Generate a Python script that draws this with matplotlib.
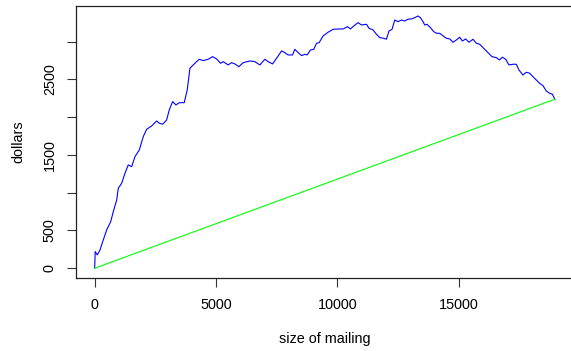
import matplotlib
matplotlib.use("Agg")
from matplotlib import pyplot as plt
import numpy as np

plt.rcParams['font.family'] = ['Liberation Sans', 'DejaVu Sans']

# cumulative profit
size = np.array([0, 20, 107, 218, 354, 494, 659, 766, 906, 972, 1112, 1248, 1384, 1524,
                 1660, 1838, 2001, 2141, 2347, 2553, 2660, 2800, 2965, 3072, 3212, 3348,
                 3484, 3690, 3813, 3925, 4130, 4307, 4472, 4678, 4859, 5024, 5189, 5296,
                 5502, 5642, 5778, 5942, 6119, 6395, 6601, 6807, 7013, 7149, 7330, 7495,
                 7701, 7767, 7973, 8154, 8249, 8385, 8524, 8660, 8755, 8895, 9031, 9142,
                 9249, 9414, 9620, 9826, 10032, 10238, 10419, 10542, 10678, 10855, 10995,
                 11201, 11308, 11473, 11613, 11749, 11913, 12024, 12131, 12255, 12366,
                 12502, 12642, 12778, 12914, 13054, 13190, 13326, 13425, 13532, 13602,
                 13697, 13837, 13973, 14084, 14220, 14356, 14496, 14632, 14768, 14908,
                 15043, 15155, 15290, 15426, 15591, 15731, 15867, 16031, 16209, 16373,
                 16554, 16690, 16801, 16937, 17073, 17238, 17378, 17485, 17650, 17790,
                 17926, 18061, 18201, 18337, 18473, 18613, 18749, 18860, 18967])
dollars = np.array([0, 220, 176, 242, 375, 507, 617, 749, 904, 1059, 1125, 1258, 1368, 1345,
                    1478, 1566, 1742, 1840, 1884, 1950, 1920, 1907, 1963, 2096, 2206, 2162,
                    2192, 2192, 2361, 2648, 2714, 2767, 2749, 2767, 2802, 2771, 2714, 2735,
                    2692, 2722, 2705, 2669, 2722, 2745, 2735, 2692, 2767, 2735, 2705, 2780,
                    2877, 2868, 2824, 2824, 2899, 2855, 2815, 2833, 2824, 2890, 2899, 2979,
                    2987, 3076, 3125, 3164, 3168, 3168, 3199, 3168, 3208, 3252, 3221,
                    3230, 3177, 3155, 3098, 3053, 3045, 3032, 3142, 3164, 3287,
                    3265, 3287, 3274, 3297, 3301, 3318, 3340, 3318, 3265, 3221,
                    3230, 3186, 3133, 3111, 3111, 3076, 3045, 3036, 2992, 3023,
                    3058, 3009, 3036, 2992, 3032, 2979, 2966, 2913, 2855, 2802,
                    2788, 2758, 2794, 2767, 2692, 2701, 2701, 2625, 2559, 2595,
                    2582, 2537, 2493, 2449, 2418, 2347, 2317, 2304, 2238])

yticks = [0, 500, 1000, 1500, 2000, 2500, 3000]
ylabels = ['0', '500', '', '1500', '', '2500', '']
xticks = [0, 5000, 10000, 15000]

fig = plt.figure(figsize=(5.71, 3.51), dpi=100)
ax = fig.add_axes([76.3 / 571, (351 - 278.3) / 351, 497 / 571, 272.4 / 351])

ax.plot(size, dollars, color='#0000FF', lw=0.8)
ax.plot([0, size[-1]], [0, dollars[-1]], color='#00FF00', lw=0.8)

ax.margins(x=0.04, y=0.04)
ax.set_xticks(xticks)
ax.set_yticks(yticks)
ax.set_yticklabels(ylabels, rotation=90, va='center')
ax.tick_params(direction='out', length=6.5, width=0.8, pad=7.5, labelsize=10.4, colors='#333333', labelcolor='black')

for s in ax.spines.values():
    s.set_linewidth(0.9)
    s.set_color('#222222')
ax.spines['right'].set_visible(False)  # the reference is cut off before the right edge

ax.set_xlabel('size of mailing', fontsize=10.4)
ax.set_ylabel('dollars', fontsize=10.4)
ax.xaxis.set_label_coords(0.5, -0.222)
ax.yaxis.set_label_coords(-0.117, 0.5)
ax.xaxis.label.set_va('center')
ax.yaxis.label.set_va('center')

fig.savefig('out.png', dpi=100)
